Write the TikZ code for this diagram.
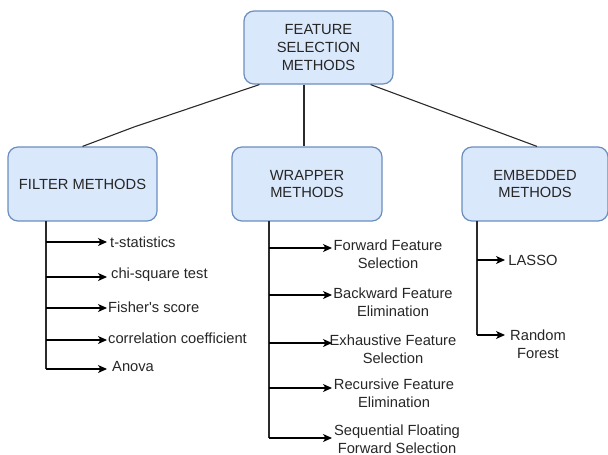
\documentclass[tikz,border=0pt]{standalone}
\usepackage{fontspec}
\setmainfont{Liberation Sans}[Ligatures=TeXOff]
\usetikzlibrary{arrows.meta}
\definecolor{boxfill}{HTML}{DAE8FC}
\definecolor{boxline}{HTML}{6C8EBF}
\definecolor{ink}{HTML}{262626}
\definecolor{wire}{HTML}{2B2B2B}
\tikzset{
  catbox/.style={draw=boxline, fill=boxfill, line width=1.2pt, rounded corners=10pt,
    inner sep=0pt, align=center, text=ink},
  item/.style={inner sep=0pt, align=center, text=ink},
  link/.style={draw=wire, line width=1.1pt},
  arr/.style={draw=black, line width=1.1pt, -{Stealth[length=9pt,width=8pt,inset=2.5pt]}},
}
\begin{document}
\begin{tikzpicture}[x=1pt, y=-1pt,
  every node/.style={font=\fontsize{14.7}{17.6}\selectfont}]
\useasboundingbox (0,0) rectangle (608,455);

% category boxes
\node[catbox, minimum width=149pt, minimum height=73pt] (top) at (318.5,47.5) {FEATURE\\SELECTION\\METHODS};
\node[catbox, minimum width=149pt, minimum height=74pt] (filt) at (82.5,184) {FILTER METHODS};
\node[catbox, minimum width=150pt, minimum height=74pt] (wrap) at (307,184) {WRAPPER\\METHODS};
\node[catbox, minimum width=146pt, minimum height=74pt] (emb) at (535,184) {EMBEDDED\\METHODS};

% links from the root box
\coordinate (bend) at (134,127);
\draw[link] ([xshift=16pt]top.south west) -- (bend) -- (filt.north);
\draw[link] ([xshift=-3pt]wrap.north |- top.south) -- ([xshift=-3pt]wrap.north);
\draw[link] ([xshift=-23pt]top.south east) -- ([xshift=2pt]emb.north);

% filter methods
\node[item, anchor=west] (f1) at (110,242) {t-statistics};
\node[item, anchor=west] (f2) at (111,275) {chi-square test};
\node[item, anchor=west] (f3) at (108,307) {Fisher's score};
\node[item, anchor=west] (f4) at (108,338) {correlation coefficient};
\node[item, anchor=west] (f5) at (112,367) {Anova};
\coordinate (ftop) at (46,221);
\foreach \i/\y in {1/242,2/277,3/308,4/340,5/369} {
  \coordinate (fa\i) at (46,\y);
  \coordinate (fb\i) at (107,\y);
}
\draw[link] (ftop) -- (fa5);
\foreach \i in {1,...,5} { \draw[arr] (fa\i) -- (fb\i); }

% wrapper methods
\node[item] (w1) at (388,254) {Forward Feature\\Selection};
\node[item] (w2) at (393,302.5) {Backward Feature\\Elimination};
\node[item] (w3) at (393,349) {Exhaustive Feature\\Selection};
\node[item] (w4) at (394,393.5) {Recursive Feature\\Elimination};
\node[item] (w5) at (397,439) {Sequential Floating\\Forward Selection};
\coordinate (wtop) at (269,221);
\foreach \i/\y in {1/248,2/295,3/343,4/388,5/438} {
  \coordinate (wa\i) at (269,\y);
  \coordinate (wb\i) at (332,\y);
}
\draw[link] (wtop) -- (wa5);
\foreach \i in {1,...,5} { \draw[arr] (wa\i) -- (wb\i); }

% embedded methods
\node[item] (e1) at (533,260) {LASSO};
\node[item] (e2) at (538,344) {Random\\Forest};
\coordinate (etop) at (477,221);
\foreach \i/\y in {1/260,2/335} {
  \coordinate (ea\i) at (477,\y);
  \coordinate (eb\i) at (505,\y);
}
\draw[link] (etop) -- (ea2);
\foreach \i in {1,2} { \draw[arr] (ea\i) -- (eb\i); }
\end{tikzpicture}
\end{document}
